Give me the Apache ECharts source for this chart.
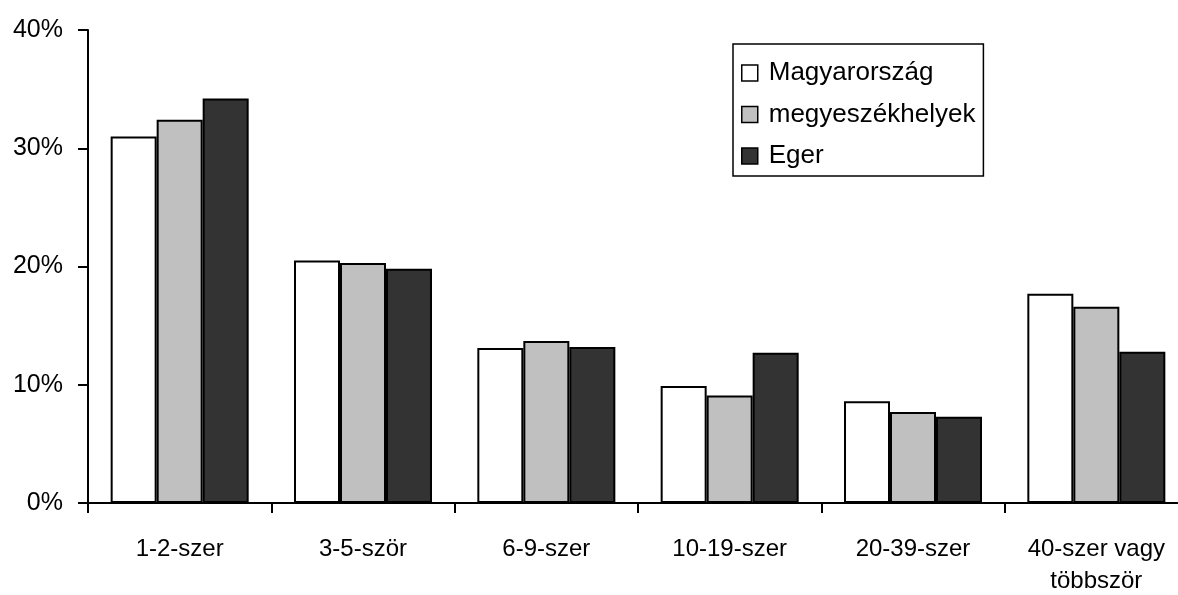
<!DOCTYPE html>
<html><head><meta charset="utf-8">
<script src="https://cdn.jsdelivr.net/npm/echarts@6/dist/echarts.min.js"></script>
<style>html,body{margin:0;padding:0;background:#fff}#c{width:1178px;height:595px}</style>
</head><body><div id="c"></div>
<script>
const categories = ['1-2-szer', '3-5-ször', '6-9-szer', '10-19-szer', '20-39-szer', '40-szer vagy\ntöbbször'];
const magyarorszag = [31.0, 20.5, 13.1, 9.9, 8.6, 17.7];
const megyeszekhelyek = [32.4, 20.3, 13.7, 9.1, 7.7, 16.6];
const eger = [34.2, 19.8, 13.2, 12.7, 7.3, 12.8];
const yTicks = [0, 10, 20, 30, 40];

const font = '"Liberation Sans", Arial, sans-serif';
const chart = echarts.init(document.getElementById('c'), null, {renderer: 'canvas'});
function ser(name, data, color) {
  return {
    name, type: 'bar', data, barWidth: 46, barGap: '0%',
    itemStyle: {color, borderColor: '#000', borderWidth: 2},
    emphasis: {disabled: true}
  };
}
chart.setOption({
  animation: false,
  backgroundColor: '#fff',
  grid: {left: 88, right: -10, top: 30, bottom: 92, containLabel: false, outerBoundsMode: 'none'},
  legend: {
    orient: 'vertical', left: 733, top: 44,
    padding: [15, 8, 6, 8],
    itemGap: 13.5,
    itemWidth: 16, itemHeight: 16,
    icon: 'rect',
    backgroundColor: '#fff',
    borderColor: '#000', borderWidth: 1.5,
    textStyle: {fontFamily: font, fontSize: 26, lineHeight: 28, color: '#000', padding: [0, 0, 0, 6]},
    itemStyle: {borderColor: '#000', borderWidth: 1.5},
    data: ['Magyarország', 'megyeszékhelyek', 'Eger']
  },
  xAxis: {
    type: 'category', data: categories,
    axisLine: {lineStyle: {color: '#000', width: 2}},
    axisTick: {show: true, length: 10, lineStyle: {color: '#000', width: 2}},
    axisLabel: {fontFamily: font, fontSize: 24, color: '#000', margin: 30, lineHeight: 32, interval: 0}
  },
  yAxis: {
    type: 'value', min: yTicks[0], max: yTicks[yTicks.length - 1], interval: 10,
    splitLine: {show: false},
    axisLine: {show: true, lineStyle: {color: '#000', width: 2}},
    axisTick: {show: true, length: 10, lineStyle: {color: '#000', width: 2}},
    axisLabel: {fontFamily: font, fontSize: 25, color: '#000', margin: 25, formatter: v => v + '%'}
  },
  series: [
    ser('Magyarország', magyarorszag, '#ffffff'),
    ser('megyeszékhelyek', megyeszekhelyek, '#c0c0c0'),
    ser('Eger', eger, '#333333')
  ]
});
</script></body></html>
